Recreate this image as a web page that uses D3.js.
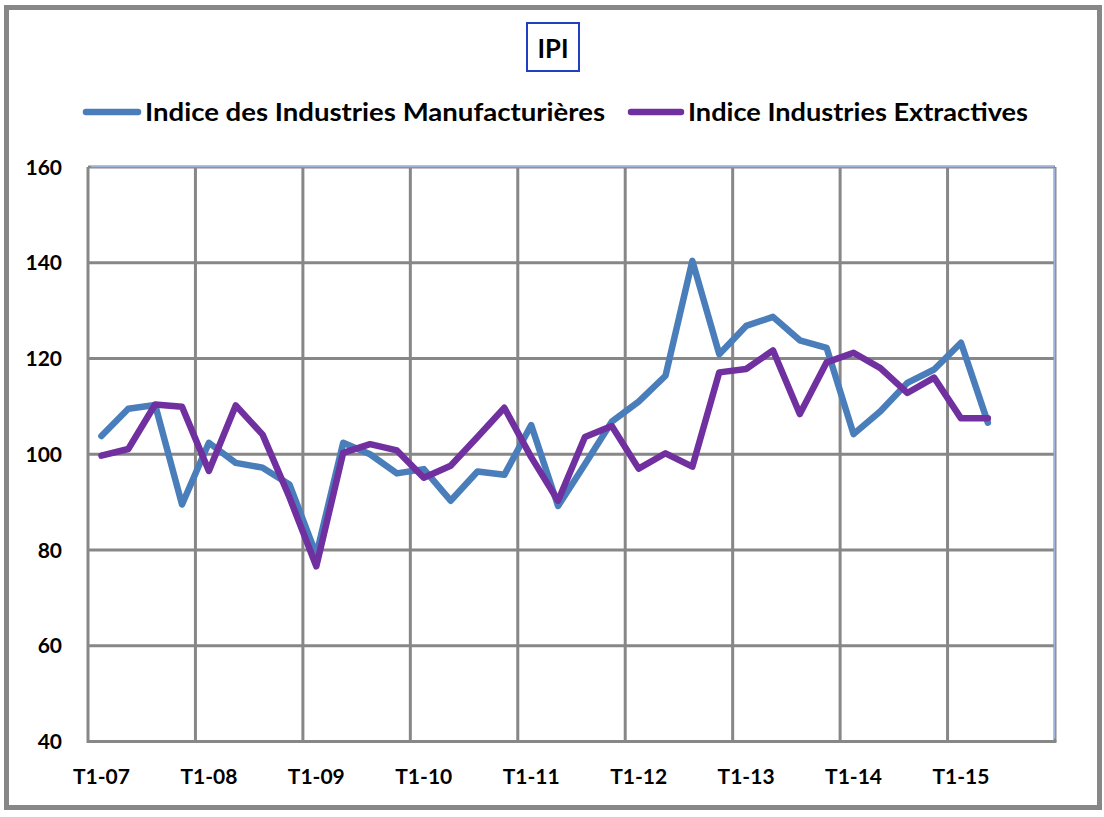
<!DOCTYPE html>
<html><head><meta charset="utf-8">
<script src="https://cdn.jsdelivr.net/npm/d3@7"></script>
<style>body{margin:0;background:#fff}svg{display:block}text{font-family:Lato,"Open Sans",sans-serif;font-weight:700;fill:#000}</style>
</head><body>
<svg id="c" width="1104" height="817"></svg>
<script>
const quarters = ["T1-07","T2-07","T3-07","T4-07","T1-08","T2-08","T3-08","T4-08","T1-09","T2-09","T3-09","T4-09",
"T1-10","T2-10","T3-10","T4-10","T1-11","T2-11","T3-11","T4-11","T1-12","T2-12","T3-12","T4-12",
"T1-13","T2-13","T3-13","T4-13","T1-14","T2-14","T3-14","T4-14","T1-15","T2-15","T3-15","T4-15"];
const tickLabels = ["T1-07","T1-08","T1-09","T1-10","T1-11","T1-12","T1-13","T1-14","T1-15"];
const yTicks = [40,60,80,100,120,140,160];
const seriesNames = ["Indice des Industries Manufacturières","Indice Industries Extractives"];
const manuf = [103.8,109.5,110.3,89.5,102.4,98.2,97.2,93.7,79,102.4,100,96,96.9,90.3,96.4,95.7,106.1,89.2,97.9,106.8,111,116.4,140.4,120.9,126.8,128.7,123.8,122.2,104.2,109,114.9,117.7,123.3,106.6];
const extract = [99.7,101.1,110.4,109.9,96.5,110.2,104.1,91,76.6,100.3,102.1,100.8,95.1,97.6,103.6,109.7,99.4,90.3,103.6,105.9,97,100.2,97.4,117.1,117.8,121.7,108.4,119.2,121.2,118,112.8,116,107.5,107.5];
const colors = ["#4a7ebb","#7030a0"];

const svg = d3.select("#c");
const L=88, R=1055, T=167, B=741.5;
const x = d3.scaleBand().domain(quarters).range([L,R]).paddingInner(0).paddingOuter(0);
const y = d3.scaleLinear().domain([40,160]).range([B,T]);
const grid="#878787";

// outer frame
svg.append("rect").attr("x",6.5).attr("y",7.5).attr("width",1093).attr("height",800)
  .attr("fill","none").attr("stroke",grid).attr("stroke-width",5);

// title
svg.append("rect").attr("x",527).attr("y",23).attr("width",52).attr("height",48)
  .attr("fill","#fff").attr("stroke","#1f3fc4").attr("stroke-width",2);
svg.append("text").attr("x",553).attr("y",58).attr("text-anchor","middle").style("font-size","27px")
  .attr("textLength",31).attr("lengthAdjust","spacingAndGlyphs").text("IPI");

// legend
const leg = [{x1:86,x2:138,tx:145,w:460},{x1:631,x2:681,tx:688,w:340}];
leg.forEach((l,i)=>{
  svg.append("line").attr("x1",l.x1).attr("x2",l.x2).attr("y1",112).attr("y2",112)
    .attr("stroke",colors[i]).attr("stroke-width",6.5).attr("stroke-linecap","round");
  svg.append("text").attr("x",l.tx).attr("y",121).style("font-size","25px")
    .attr("textLength",l.w).attr("lengthAdjust","spacingAndGlyphs").text(seriesNames[i]);
});

// horizontal gridlines
svg.append("g").selectAll("line").data(yTicks.filter(v=>v>40&&v<160)).join("line")
  .attr("x1",L).attr("x2",R).attr("y1",d=>y(d)).attr("y2",d=>y(d))
  .attr("stroke",grid).attr("stroke-width",3);
// vertical gridlines at year boundaries
svg.append("g").selectAll("line").data(tickLabels.slice(1)).join("line")
  .attr("x1",d=>x(d)).attr("x2",d=>x(d)).attr("y1",T).attr("y2",B)
  .attr("stroke",grid).attr("stroke-width",3);
// plot frame top/right
svg.append("line").attr("x1",L).attr("x2",R).attr("y1",T).attr("y2",T).attr("stroke",grid).attr("stroke-width",3);
svg.append("line").attr("x1",L+3).attr("x2",R-1).attr("y1",T-0.5).attr("y2",T-0.5).attr("stroke","#9fb3dc").attr("stroke-width",1.5);
svg.append("line").attr("x1",R).attr("x2",R).attr("y1",T).attr("y2",B).attr("stroke",grid).attr("stroke-width",3);
svg.append("line").attr("x1",R-0.5).attr("x2",R-0.5).attr("y1",T+1).attr("y2",B-3).attr("stroke","#9fb3dc").attr("stroke-width",1.5);
// axes
svg.append("line").attr("x1",L).attr("x2",L).attr("y1",T).attr("y2",B+1.5).attr("stroke",grid).attr("stroke-width",3);
svg.append("line").attr("x1",L).attr("x2",R+1.5).attr("y1",B).attr("y2",B).attr("stroke",grid).attr("stroke-width",3);

// y labels
svg.append("g").selectAll("text").data(yTicks).join("text")
  .attr("x",62).attr("y",d=>y(d)+7.5).attr("text-anchor","end").style("font-size","21px").text(d=>d);
// x labels
svg.append("g").selectAll("text").data(tickLabels).join("text")
  .attr("x",d=>x(d)+x.bandwidth()/2).attr("y",784).attr("text-anchor","middle").style("font-size","21px").text(d=>d);

// lines
const line = d3.line().x((d,i)=>x(quarters[i])+x.bandwidth()/2).y(d=>y(d));
[manuf,extract].forEach((s,i)=>{
  svg.append("path").attr("d",line(s)).attr("fill","none").attr("stroke",colors[i])
    .attr("stroke-width",6.5).attr("stroke-linejoin","round").attr("stroke-linecap","round");
});
</script>
</body></html>
